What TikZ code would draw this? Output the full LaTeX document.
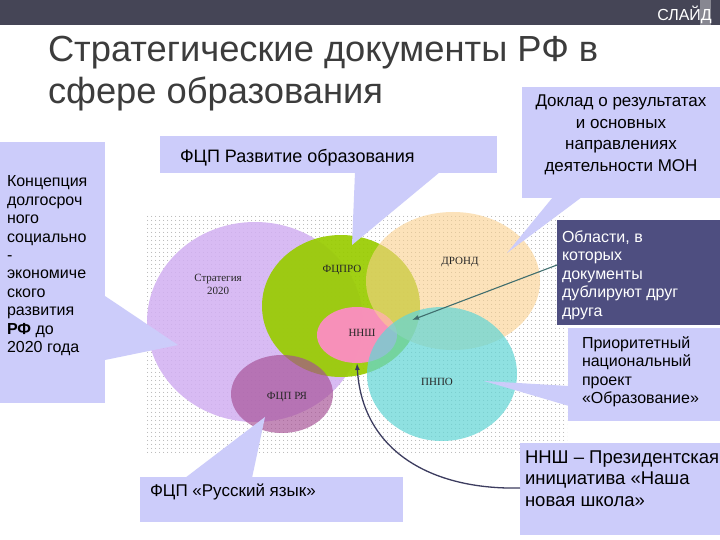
\documentclass[tikz,border=0pt]{standalone}
\usepackage{fontspec}
\setmainfont{Liberation Sans}
\newfontfamily\lserif{Liberation Serif}
\usetikzlibrary{shapes.geometric,patterns.meta,arrows.meta}
\definecolor{barcol}{RGB}{69,69,86}
\definecolor{stripcol}{RGB}{135,135,145}
\definecolor{titlecol}{RGB}{60,60,60}
\definecolor{callcol}{RGB}{204,204,250}
\definecolor{darkbox}{RGB}{78,78,128}
\definecolor{cpurple}{RGB}{210,176,242}
\definecolor{cgreen}{RGB}{153,204,0}
\definecolor{cpink}{RGB}{255,140,200}
\definecolor{corange}{RGB}{250,208,140}
\definecolor{ccyan}{RGB}{100,214,214}
\definecolor{cmauve}{RGB}{165,78,148}
\definecolor{arrowteal}{RGB}{64,110,110}
\definecolor{arrowdark}{RGB}{60,60,95}
\tikzset{
  blob/.style={ellipse,inner sep=0pt,outer sep=0pt,draw=none},
  clabel/.style={inner sep=0pt,font=\lserif\fontsize{11}{13}\selectfont,text=black!85,align=center},
  ctext/.style={anchor=base west,inner sep=0pt,outer sep=0pt},
  callout/.style={fill=callcol},
}
\begin{document}
\begin{tikzpicture}[x=1pt,y=-1pt]
\useasboundingbox (0,0) rectangle (720,540);
\fill[white] (0,0) rectangle (720,540);
% top bar
\fill[barcol] (0,0) rectangle (720,25);
\fill[stripcol] (700,0) rectangle (711,25);
\node[anchor=base east,inner sep=0pt,text=white,font=\fontsize{16}{18}\selectfont] (slide) at (712,21) {СЛАЙД};
% title
\node[ctext,text=titlecol,font=\fontsize{36.3}{41.5}\selectfont] (title) at (48,62)
  {\parbox[t]{620pt}{Стратегические документы РФ в\\сфере образования}};
% dotted background
\fill[pattern={Dots[distance=4pt,radius=0.55pt]},pattern color=black!45] (145,215) rectangle (567,453);
% circles
\node[blob,fill=cpurple,fill opacity=0.85,minimum width=216pt,minimum height=200pt] (strat) at (255,322) {};
\node[blob,fill=cgreen,fill opacity=0.92,minimum width=158pt,minimum height=142pt] (fcpro) at (341,306) {};
\node[blob,fill=cpink,fill opacity=0.92,minimum width=80pt,minimum height=56pt] (nnsh) at (357,335) {};
\node[blob,fill=corange,fill opacity=0.6,minimum width=174pt,minimum height=138pt] (dron) at (453,281) {};
\node[blob,fill=ccyan,fill opacity=0.72,minimum width=150pt,minimum height=134pt] (pnpo) at (442,374) {};
\node[blob,fill=cmauve,fill opacity=0.66,minimum width=102pt,minimum height=78pt] (fcpry) at (282,394) {};
% circle labels
\node[clabel] (lstrat) at (218,284) {Стратегия\\2020};
\node[clabel] (lfcpro) at (342,270) {ФЦПРО};
\node[clabel] (ldron) at (460,262) {ДРОНД};
\node[clabel] (lnnsh) at (362,333) {ННШ};
\node[clabel] (lpnpo) at (437,382) {ПНПО};
\node[clabel] (lfcpry) at (287,397) {ФЦП РЯ};
% callouts
\fill[callout] (0,142) rectangle (105,403);
\fill[callout] (105,296) -- (178,345) -- (105,360) -- cycle;
\fill[callout] (160,136) rectangle (497,173);
\fill[callout] (355,172) -- (440,172) -- (352,245) -- cycle;
\fill[callout] (522,87) rectangle (720,198);
\fill[callout] (553,197) -- (582,197) -- (507,253) -- cycle;
\fill[darkbox] (557,220) rectangle (720,325);
\fill[callout] (568,328) rectangle (720,421);
\fill[callout] (569,386) -- (484,381) -- (569,406) -- cycle;
\fill[callout] (140,477) rectangle (403,522);
\fill[callout] (185,478) -- (265,417) -- (252,478) -- cycle;
\fill[callout] (520,443) rectangle (720,535);
% callout texts
\node[ctext,font=\fontsize{16}{18.4}\selectfont] (tkonc) at (7,187)
  {\parbox[t]{98pt}{\raggedright Концепция\\долгосроч\\ного\\социально\\-\\экономиче\\ского\\развития\\\textbf{РФ} до\\2020 года}};
\node[ctext,font=\fontsize{18}{21}\selectfont] (tfcp) at (180,163) {ФЦП Развитие образования};
\node[ctext,font=\fontsize{17}{21.5}\selectfont] (tdoklad) at (522,107)
  {\parbox[t]{198pt}{\centering Доклад о результатах\\и основных\\направлениях\\деятельности МОН}};
\node[ctext,text=white,font=\fontsize{16}{18.6}\selectfont] (tobl) at (562,242)
  {\parbox[t]{156pt}{\raggedright Области, в\\которых\\документы\\дублируют друг\\друга}};
\node[ctext,font=\fontsize{16}{18.5}\selectfont] (tpnpo) at (582,348)
  {\parbox[t]{136pt}{\raggedright Приоритетный\\национальный\\проект\\«Образование»}};
\node[ctext,font=\fontsize{17}{21}\selectfont] (tfcpry) at (150,496) {ФЦП «Русский язык»};
\node[ctext,font=\fontsize{18.5}{21.5}\selectfont] (tnnsh) at (525,463)
  {\parbox[t]{195pt}{\raggedright ННШ – Президентская\\инициатива «Наша\\новая школа»}};
% arrows
\coordinate (oblstart) at (557,265);
\coordinate (oblend) at (412,320);
\draw[arrowteal,line width=1.1pt,-{Latex[length=7pt,width=5pt]}] (oblstart) -- (oblend);
\coordinate (nnshstart) at (520,488);
\draw[arrowdark,line width=1.3pt,-{Latex[length=7pt,width=5pt]}] (nnshstart) .. controls (430,490) and (362,450) .. (nnsh.south);
\end{tikzpicture}
\end{document}
